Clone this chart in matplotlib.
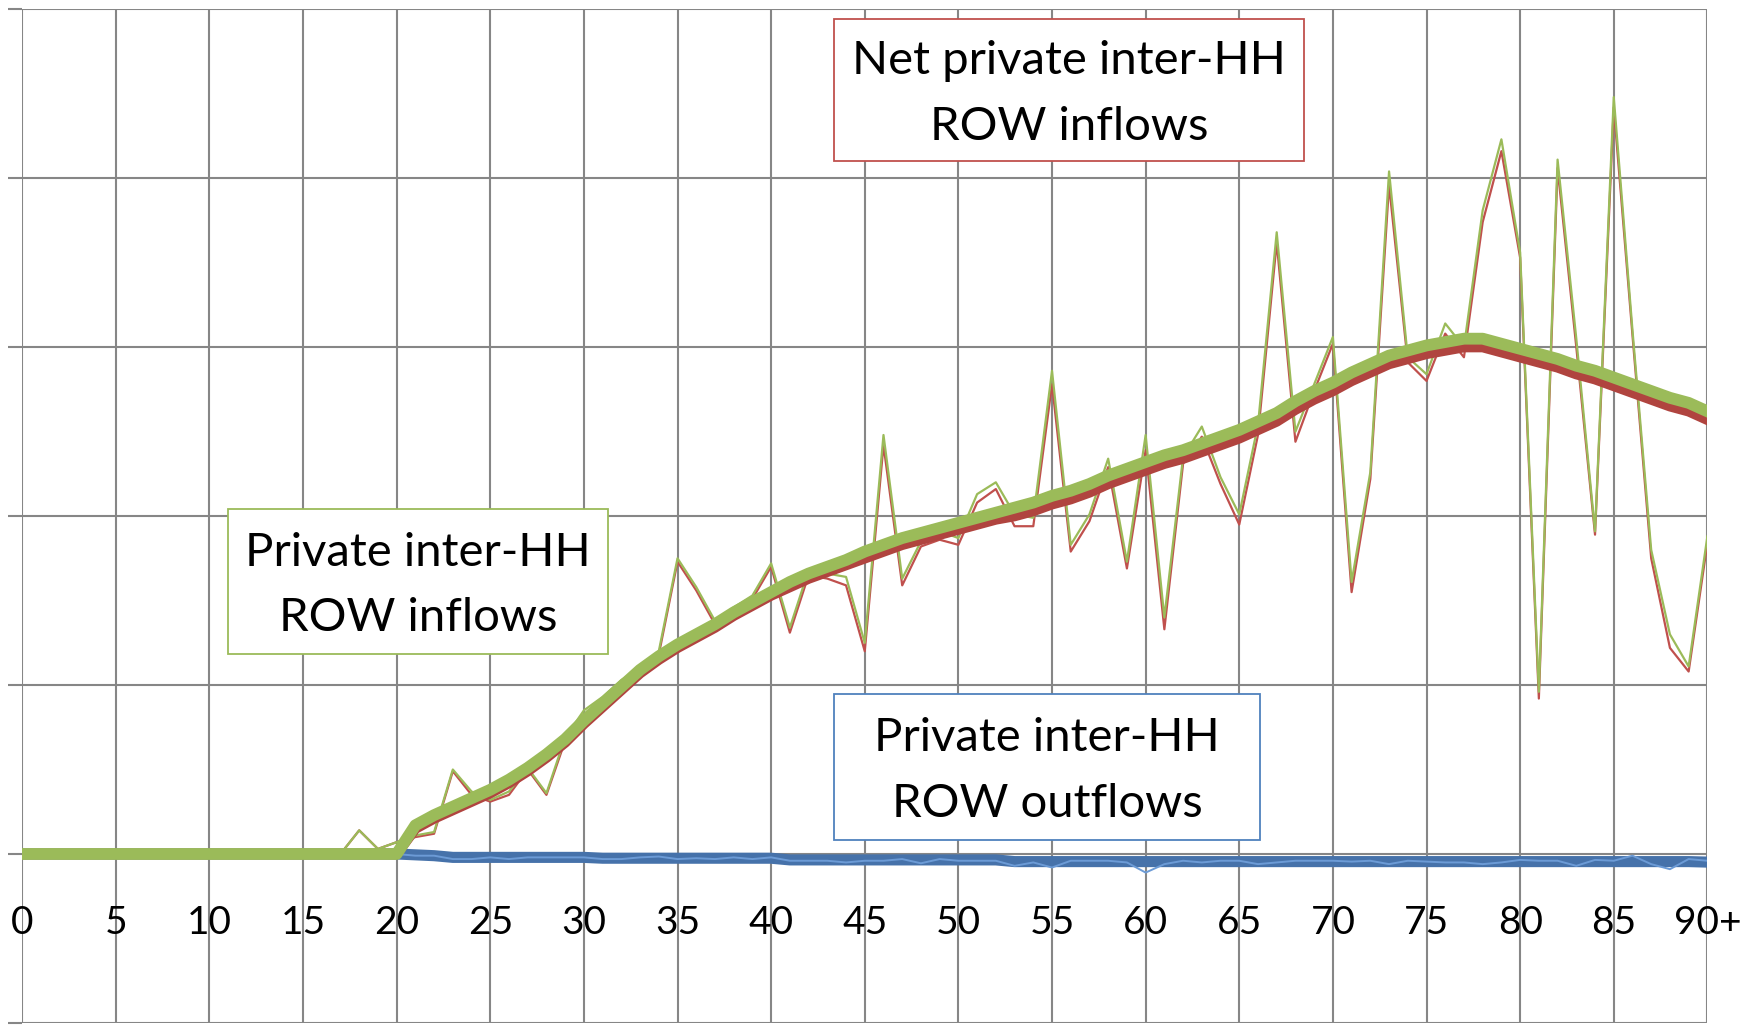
import matplotlib.pyplot as plt
from matplotlib.patches import Rectangle

# ages 0..90 (last one is "90+")
ages = list(range(91))
tick_pos = list(range(0, 91, 5))
tick_labels = [str(a) for a in range(0, 90, 5)] + ['90+']

zeros17 = [0.0] * 17
zeros21 = [0.0] * 21

# raw private inter-HH ROW inflows (thin green)
inflow_raw = zeros17 + [
    0.00, 0.14, 0.03, 0.07,
    0.11, 0.13, 0.50, 0.37, 0.32, 0.37, 0.51, 0.36, 0.69, 0.85,
    0.93, 1.03, 1.10, 1.20, 1.75, 1.58, 1.38, 1.46, 1.53, 1.72,
    1.34, 1.68, 1.66, 1.64, 1.25, 2.48, 1.63, 1.85, 1.91, 1.87,
    2.13, 2.20, 2.01, 1.99, 2.86, 1.83, 2.01, 2.34, 1.73, 2.48,
    1.40, 2.35, 2.53, 2.23, 2.01, 2.54, 3.68, 2.50, 2.78, 3.06,
    1.61, 2.26, 4.04, 2.94, 2.84, 3.14, 3.00, 3.81, 4.23, 3.56,
    0.96, 4.11, 3.05, 1.91, 4.48, 3.10, 1.80, 1.30, 1.11, 1.88]

# raw net private inter-HH ROW inflows (thin red)
net_raw = zeros17 + [
    0.00, 0.14, 0.03, 0.07,
    0.10, 0.12, 0.49, 0.35, 0.31, 0.35, 0.50, 0.35, 0.67, 0.82,
    0.89, 1.01, 1.08, 1.18, 1.73, 1.56, 1.36, 1.44, 1.51, 1.70,
    1.31, 1.65, 1.63, 1.59, 1.20, 2.42, 1.59, 1.82, 1.86, 1.83,
    2.08, 2.16, 1.94, 1.94, 2.78, 1.79, 1.97, 2.29, 1.69, 2.39,
    1.33, 2.31, 2.47, 2.19, 1.95, 2.48, 3.62, 2.44, 2.74, 3.02,
    1.55, 2.22, 3.96, 2.91, 2.80, 3.08, 2.94, 3.74, 4.16, 3.53,
    0.92, 4.06, 3.00, 1.89, 4.42, 3.07, 1.75, 1.22, 1.08, 1.84]

# raw outflows (thin blue)
outflow_raw = zeros21 + [
    -0.01, -0.01, -0.03, -0.03, -0.02, -0.03, -0.02, -0.02, -0.02, -0.02,
    -0.03, -0.03, -0.02, -0.015, -0.03, -0.025, -0.03, -0.02, -0.03, -0.02,
    -0.04, -0.04, -0.04, -0.05, -0.04, -0.04, -0.03, -0.055, -0.03, -0.04,
    -0.04, -0.04, -0.07, -0.05, -0.08, -0.04, -0.04, -0.04, -0.05, -0.11,
    -0.06, -0.04, -0.05, -0.04, -0.04, -0.06, -0.05, -0.04, -0.04, -0.04,
    -0.045, -0.04, -0.06, -0.04, -0.045, -0.05, -0.05, -0.06, -0.05, -0.035,
    -0.04, -0.04, -0.07, -0.035, -0.04, -0.01, -0.06, -0.09, -0.03, -0.04]

# smoothed series (thick lines)
inflow_smooth = zeros21 + [
    0.17, 0.23, 0.28, 0.33, 0.38, 0.44, 0.51, 0.59, 0.68, 0.79,
    0.89, 0.99, 1.09, 1.17, 1.24, 1.30, 1.36, 1.43, 1.49, 1.55,
    1.61, 1.66, 1.70, 1.74, 1.79, 1.83, 1.87, 1.90, 1.93, 1.96,
    1.99, 2.02, 2.05, 2.08, 2.12, 2.15, 2.19, 2.24, 2.28, 2.32,
    2.36, 2.39, 2.43, 2.47, 2.51, 2.56, 2.61, 2.68, 2.74, 2.79,
    2.85, 2.90, 2.95, 2.98, 3.01, 3.03, 3.05, 3.05, 3.02, 2.99,
    2.96, 2.93, 2.89, 2.86, 2.82, 2.78, 2.74, 2.70, 2.67, 2.62]

net_smooth = zeros21 + [
    0.15, 0.21, 0.26, 0.31, 0.36, 0.42, 0.49, 0.57, 0.66, 0.77,
    0.87, 0.97, 1.07, 1.15, 1.22, 1.28, 1.34, 1.41, 1.47, 1.53,
    1.58, 1.63, 1.67, 1.71, 1.75, 1.79, 1.83, 1.86, 1.89, 1.92,
    1.95, 1.98, 2.00, 2.03, 2.07, 2.10, 2.14, 2.19, 2.23, 2.27,
    2.31, 2.34, 2.38, 2.42, 2.46, 2.51, 2.56, 2.63, 2.69, 2.74,
    2.80, 2.85, 2.90, 2.93, 2.96, 2.98, 3.00, 3.00, 2.97, 2.94,
    2.91, 2.88, 2.84, 2.81, 2.77, 2.73, 2.69, 2.65, 2.62, 2.57]

outflow_smooth = zeros21 + [
    -0.005, -0.01, -0.02, -0.02, -0.02, -0.02, -0.02, -0.02, -0.02, -0.02,
    -0.025, -0.025, -0.025, -0.025, -0.025, -0.025, -0.025, -0.025, -0.025, -0.025,
    -0.035, -0.035, -0.035, -0.035, -0.035, -0.035, -0.035, -0.035, -0.035, -0.035,
    -0.035, -0.035, -0.045, -0.045, -0.045, -0.045, -0.045, -0.045, -0.045, -0.045,
    -0.045, -0.045, -0.045, -0.045, -0.045, -0.045, -0.045, -0.045, -0.045, -0.045,
    -0.045, -0.045, -0.045, -0.045, -0.045, -0.045, -0.045, -0.045, -0.045, -0.045,
    -0.045, -0.045, -0.045, -0.045, -0.045, -0.045, -0.045, -0.045, -0.045, -0.048]

green = '#9BBB59'
red = '#C0504D'
dark_red = '#B0443F'
blue = '#4672AA'
light_blue = '#6C9BD6'
grid_col = '#868686'
font = 'Lato'

fig = plt.figure(figsize=(17.44, 10.25), dpi=100)
ax = fig.add_axes([0.0127, 0.002, 0.9663, 0.989])

for s in ['top', 'right', 'left']:
    ax.spines[s].set_visible(False)
ax.spines['bottom'].set_position(('data', 0))
ax.spines['bottom'].set_visible(False)

ax.plot(ages, outflow_smooth, color=blue, lw=8, zorder=2)
ax.plot(ages, outflow_raw, color=light_blue, lw=1.4, zorder=3)
ax.plot(ages, net_raw, color=red, lw=1.6, zorder=4)
ax.plot(ages, inflow_raw, color=green, lw=1.6, zorder=5)
ax.plot(ages, net_smooth, color=dark_red, lw=7.5, zorder=6)
ax.plot(ages, inflow_smooth, color=green, lw=8.5, zorder=7)

ax.set_xlim(0, 90)
ax.set_ylim(-1, 5)
ax.set_xticks(tick_pos)
ax.set_xticklabels(tick_labels)
ax.set_yticks(range(-1, 6))
ax.set_yticklabels([])
ax.grid(True, color=grid_col, linewidth=1.5)
ax.set_axisbelow(True)

ax.tick_params(axis='x', length=0, pad=37, labelsize=28, labelfontfamily=font)
ax.tick_params(axis='y', length=10, width=1.5, color=grid_col)

boxes = [
    ((0.4782, 0.8429), 0.2695, 0.1385, red, 'Net private inter-HH\nROW inflows'),
    ((0.1307, 0.3620), 0.2179, 0.1415, green, 'Private inter-HH\nROW inflows'),
    ((0.4782, 0.1805), 0.2443, 0.1424, '#4F81BD', 'Private inter-HH\nROW outflows'),
]
for (x0, y0), w, h, ec, label in boxes:
    fig.add_artist(Rectangle((x0, y0), w, h, transform=fig.transFigure,
                             facecolor='white', edgecolor=ec, lw=1.3, zorder=10))
    fig.text(x0 + w / 2, y0 + h / 2 - 0.004, label, ha='center', va='center',
             fontsize=34, fontfamily=font, linespacing=1.7, zorder=11)

fig.savefig('out.png', dpi=100)
